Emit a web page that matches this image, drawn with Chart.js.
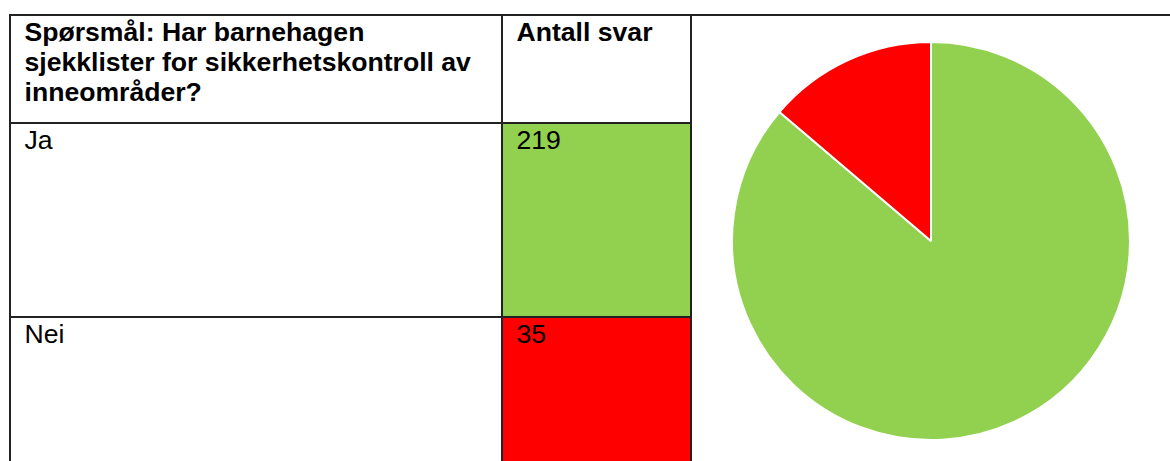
<!DOCTYPE html>
<html>
<head>
<meta charset="utf-8">
<script src="https://cdn.jsdelivr.net/npm/chart.js@4"></script>
<style>
  html, body { margin: 0; padding: 0; background: #fff; }
  body { width: 1170px; height: 461px; overflow: hidden; position: relative;
         font-family: "Liberation Sans", Arial, sans-serif; color: #000; }
  .cell { position: absolute; box-sizing: border-box; font-size: 26.6px; line-height: 30px;
          padding: 3px 0 0 15.5px; }
  .hline { position: absolute; height: 1.5px; background: #222; }
  .vline { position: absolute; width: 1.5px; background: #222; }
  #pieBox { position: absolute; left: 731px; top: 41px; width: 400px; height: 400px; }
</style>
</head>
<body>
<div id="table"></div>
<div id="pieBox"><canvas id="pie"></canvas></div>
<script>
// data
const questionText = 'Spørsmål: Har barnehagen sjekklister for sikkerhetskontroll av inneområder?';
const countHeader = 'Antall svar';
const answers = ['Ja', 'Nei'];
const counts = [219, 35];
const answerColors = ['#92D050', '#FF0000'];

// table layout
const colX = [9, 501, 690];
const rowY = [14, 122, 316, 461];
const table = document.getElementById('table');

function addCell(x, y, w, h, html, bold, bg) {
    const d = document.createElement('div');
    d.className = 'cell';
    d.style.left = x + 'px';
    d.style.top = y + 'px';
    d.style.width = w + 'px';
    d.style.height = h + 'px';
    if (bold) d.style.fontWeight = 'bold';
    if (bg) d.style.background = bg;
    d.innerHTML = html;
    table.appendChild(d);
}

function addLine(cls, x, y, len) {
    const d = document.createElement('div');
    d.className = cls;
    d.style.left = x + 'px';
    d.style.top = y + 'px';
    if (cls === 'hline') d.style.width = len + 'px';
    else d.style.height = len + 'px';
    table.appendChild(d);
}

addCell(colX[0], rowY[0], colX[1] - colX[0], rowY[1] - rowY[0],
    'Spørsmål: Har barnehagen<br>sjekklister for sikkerhetskontroll av<br>inneområder?', true);
addCell(colX[1], rowY[0], colX[2] - colX[1], rowY[1] - rowY[0], countHeader, true);

answers.forEach(function (a, i) {
    addCell(colX[0], rowY[i + 1], colX[1] - colX[0], rowY[i + 2] - rowY[i + 1], a, false);
    addCell(colX[1], rowY[i + 1], colX[2] - colX[1], rowY[i + 2] - rowY[i + 1], String(counts[i]), false, answerColors[i]);
});

/* grid lines */
addLine('hline', colX[0], rowY[0], 1170 - colX[0]);
addLine('hline', colX[0], rowY[1], colX[2] - colX[0]);
addLine('hline', colX[0], rowY[2], colX[2] - colX[0]);
colX.forEach(function (x) { addLine('vline', x, rowY[0], 461 - rowY[0]); });

new Chart(document.getElementById('pie'), {
    type: 'pie',
    data: {
        labels: answers,
        datasets: [{
            data: counts,
            backgroundColor: answerColors,
            borderColor: '#ffffff',
            borderWidth: 2
        }]
    },
    options: {
        responsive: true,
        maintainAspectRatio: false,
        animation: false,
        layout: { padding: 0 },
        plugins: {
            legend: { display: false },
            tooltip: { enabled: false }
        }
    }
});
</script>
</body>
</html>
